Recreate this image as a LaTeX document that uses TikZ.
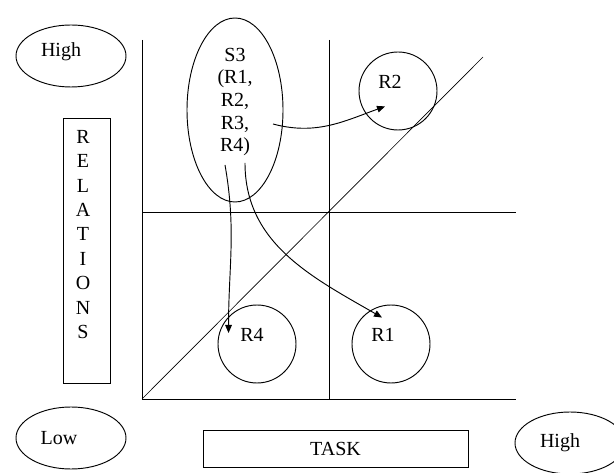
\documentclass[tikz,border=0pt]{standalone}
\usepackage{fontspec}
\setmainfont{Liberation Serif}
\usetikzlibrary{shapes.geometric,arrows.meta}

\begin{document}
\begin{tikzpicture}[x=0.75pt, y=-0.75pt, line width=0.7pt,
  font=\fontsize{15}{16.9}\selectfont,
  oval/.style={draw, ellipse, minimum width=82.5pt, minimum height=46.5pt, inner sep=0pt},
  ring/.style={draw, circle, minimum size=58.5pt, inner sep=0pt},
  txt/.style={inner sep=0pt, align=center},
  tip/.style={-{Triangle[length=6pt,width=5pt]}}]
  \useasboundingbox (0,0) rectangle (614,473);
  % quadrants
  \draw (142,40) -- (142,399) -- (516,399);
  \draw (329,40) -- (329,399);
  \draw (142,212) -- (516,212);
  \draw[line width=0.5pt] (142,399) -- (483,57);
  % axis labels
  \node[oval, label={[xshift=-7.5pt,yshift=3pt]center:High}] (hi) at (71,56) {};
  \node[oval, label={[xshift=-9pt]center:Low}] (lo) at (71,438) {};
  \node[oval, label={[xshift=-7.5pt]center:High}] (hitask) at (570,443) {};
  \node[draw, minimum width=35.25pt, minimum height=198.75pt] (relbox) at (86.5,250.5) {};
  \node[txt, font=\fontsize{15}{18.3}\selectfont] (rel) at (83,234.5) {R\\E\\L\\A\\T\\I\\O\\N\\S};
  \node[draw, minimum width=198.75pt, minimum height=27.75pt] (task) at (335.5,448.5) {TASK};
  % styles
  \node[draw, ellipse, minimum width=72pt, minimum height=138pt, inner sep=0pt] (s3) at (235,110) {};
  \node[txt] (s3lbl) at (235,102) {S3\\(R1,\\R2,\\R3,\\R4)};
  \node[ring] (c2) at (398,91) {};
  \node[ring] (c4) at (257,344) {};
  \node[ring] (c1) at (391,344) {};
  \node[txt] (r2) at (390,82) {R2};
  \node[txt] (r4) at (252,335) {R4};
  \node[txt] (r1) at (383,335) {R1};
  \path[tip]
  ([shift={(28.5pt,-10.5pt)}]s3.center) edge[out=-15, in=200] ([shift={(-3.75pt,-13pt)}]r2.south)
  ([shift={(-7.5pt,-41.25pt)}]s3.center) edge[out=-80, in=90] ([shift={(-8.5pt,1.5pt)}]r4.west)
  ([shift={(7.5pt,-39.75pt)}]s3.center) edge[out=-90, in=150] ([shift={(-0.75pt,7.8pt)}]r1.north)
  ;
\end{tikzpicture}
\end{document}
